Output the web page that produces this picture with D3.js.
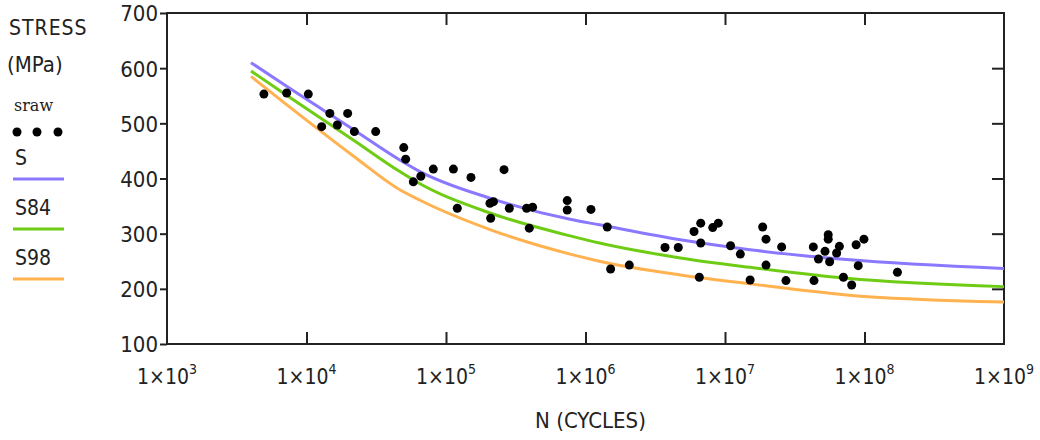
<!DOCTYPE html>
<html>
<head>
<meta charset="utf-8">
<script src="https://cdn.jsdelivr.net/npm/d3@7"></script>
<style>
  body { margin: 0; background: #fff; }
  svg { display: block; }
  text { font-family: "Liberation Sans Narrow", "DejaVu Sans Condensed", "Liberation Sans", sans-serif; fill: #222; }
</style>
</head>
<body>
<svg id="chart" width="1040" height="440"></svg>
<script>
// raw test points: cycles to failure and stress (MPa)
const rawN = [4950, 7210, 10300, 12850, 14700, 16630, 19720, 22030, 31330, 49800,
  51400, 58300, 66000, 81100, 113000, 120500, 151000, 206500, 219000, 209000,
  260600, 284400, 378400, 417800, 395400, 739600, 739600, 1094000, 1432000, 1514000,
  2061000, 3715000, 4624000, 5998000, 6699000, 6699000, 6546000, 8166000, 8954000, 10960000,
  12880000, 15140000, 18620000, 19680000, 19680000, 25470000, 27350000, 42950000, 43450000, 54950000,
  54950000, 46770000, 52120000, 56230000, 66070000, 63100000, 70630000, 80910000, 87100000, 99080000,
  90160000, 172200000]
const rawS = [553, 555, 553, 494, 518, 497, 518, 485, 485, 456,
  435, 394, 404, 417, 417, 346, 402, 355, 358, 328,
  416, 346, 346, 348, 310, 360, 343, 344, 312, 236,
  243, 275, 275, 304, 319, 283, 221, 311, 319, 278,
  263, 216, 312, 290, 243, 276, 215, 276, 215, 298,
  290, 254, 268, 249, 277, 265, 221, 207, 280, 290,
  242, 230]

// fitted curves
const curveN = [4000, 7200, 21900, 45700, 64600, 209000, 776000, 1260000, 4790000, 15100000, 74100000, 1000000000]
const curveS = [610, 567, 488, 435, 413, 364, 326, 316, 289, 271, 253, 237]
const curveS84 = [595, 551, 469, 414, 391, 337, 296, 283, 256, 239, 219, 204]
const curveS98 = [585, 534, 440, 381, 361, 307, 263, 250, 225, 209, 189, 176]

const yTicks = [100, 200, 300, 400, 500, 600, 700]
const xExps = [3, 4, 5, 6, 7, 8, 9]

const legendItems = [
  {label: 'S', color: '#8a78ff'},
  {label: 'S84', color: '#6fcc14'},
  {label: 'S98', color: '#ffb24f'}
]

const margin = {top: 13, bottom: 96, left: 167, right: 36}
const svg = d3.select('#chart')
const width = +svg.attr('width')
const height = +svg.attr('height')
const inW = width - margin.left - margin.right
const inH = height - margin.top - margin.bottom

const x = d3.scaleLog().domain([1e3, 1e9]).range([0, inW])
const y = d3.scaleLinear().domain([100, 700]).range([inH, 0])

const g = svg.append('g').attr('transform', `translate(${margin.left},${margin.top})`)

// frame
g.append('rect')
  .attr('width', inW).attr('height', inH)
  .attr('fill', 'none').attr('stroke', '#222').attr('stroke-width', 2)

const xTickVals = xExps.map(e => Math.pow(10, e))

// left axis, outside ticks
const yAxis = g.append('g').call(d3.axisLeft(y).tickValues(yTicks).tickSize(7).tickPadding(2))
yAxis.select('.domain').remove()
yAxis.selectAll('line').attr('stroke', '#222').attr('stroke-width', 2)
yAxis.selectAll('text').style('font-size', '22px').attr('dy', '0.36em')

// right axis, inside ticks
const yAxisR = g.append('g').attr('transform', `translate(${inW},0)`)
  .call(d3.axisLeft(y).tickValues(yTicks.slice(1, -1)).tickSize(12).tickFormat(''))
yAxisR.select('.domain').remove()
yAxisR.selectAll('line').attr('stroke', '#222').attr('stroke-width', 2).attr('x2', 0).attr('x1', -12)

// bottom axis, inside ticks
const xAxis = g.append('g').attr('transform', `translate(0,${inH})`)
  .call(d3.axisTop(x).tickValues(xTickVals.slice(1, -1)).tickSize(12).tickFormat(''))
xAxis.select('.domain').remove()
xAxis.selectAll('line').attr('stroke', '#222').attr('stroke-width', 2)

// top axis, inside ticks
const xAxisT = g.append('g')
  .call(d3.axisBottom(x).tickValues(xTickVals.slice(1, -1)).tickSize(12).tickFormat(''))
xAxisT.select('.domain').remove()
xAxisT.selectAll('line').attr('stroke', '#222').attr('stroke-width', 2)

// bottom tick labels 1x10^n
const xLab = g.selectAll('.xlab').data(xExps).join('text')
  .attr('class', 'xlab')
  .attr('x', d => x(Math.pow(10, d)))
  .attr('y', inH + 40)
  .attr('text-anchor', 'middle')
  .style('font-size', '21px')
xLab.append('tspan').text('1\u00d710')
xLab.append('tspan').attr('dy', -10).style('font-size', '14px').text(d => d)

// axis titles
g.append('text')
  .attr('x', inW / 2 + 5).attr('y', inH + 84)
  .attr('text-anchor', 'middle')
  .style('font-size', '22px')
  .text('N (CYCLES)')

svg.append('text').attr('x', 9).attr('y', 35).style('font-size', '21px').style('letter-spacing', '1px').text('STRESS')
svg.append('text').attr('x', 7).attr('y', 72).style('font-size', '22px').text('(MPa)')

// legend
svg.append('text').attr('x', 14).attr('y', 111)
  .style('font-family', '"DejaVu Serif", "Liberation Serif", serif').style('font-size', '16px').text('sraw')
svg.selectAll('.legdot').data([17, 37, 58]).join('circle')
  .attr('class', 'legdot').attr('cx', d => d).attr('cy', 132).attr('r', 4.5).attr('fill', '#000')
legendItems.forEach((item, i) => {
  const yy = 165 + i * 50
  svg.append('text').attr('x', 15).attr('y', yy).style('font-size', '21px').text(item.label)
  svg.append('line').attr('x1', 13).attr('x2', 64).attr('y1', yy + 14).attr('y2', yy + 14)
    .attr('stroke', item.color).attr('stroke-width', 3)
})

// curves
const line = d3.line()
  .curve(d3.curveMonotoneX)
  .x(d => x(d[0]))
  .y(d => y(d[1]))

const curves = [
  {vals: curveS, color: legendItems[0].color},
  {vals: curveS84, color: legendItems[1].color},
  {vals: curveS98, color: legendItems[2].color}
]
g.selectAll('.curve').data(curves).join('path')
  .attr('class', 'curve')
  .attr('d', c => line(curveN.map((n, i) => [n, c.vals[i]])))
  .attr('fill', 'none')
  .attr('stroke', c => c.color)
  .attr('stroke-width', 3)

// raw data points
g.selectAll('.pt').data(rawN.map((n, i) => [n, rawS[i]])).join('circle')
  .attr('class', 'pt')
  .attr('cx', d => x(d[0]))
  .attr('cy', d => y(d[1]))
  .attr('r', 4.5)
  .attr('fill', '#000')
</script>
</body>
</html>
